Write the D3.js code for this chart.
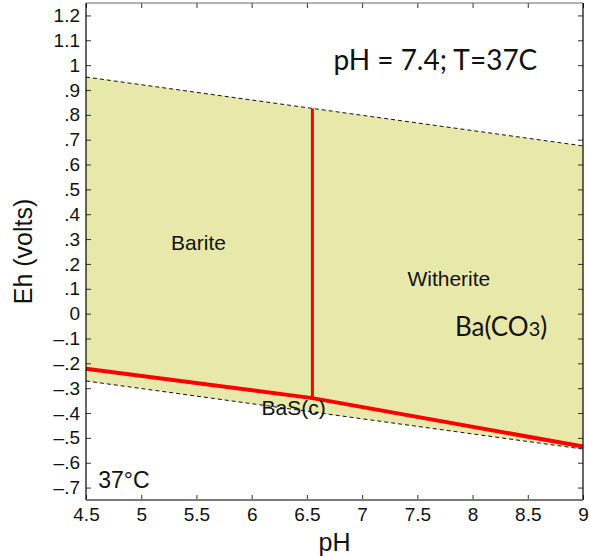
<!DOCTYPE html>
<html>
<head>
<meta charset="utf-8">
<script src="https://cdn.jsdelivr.net/npm/d3@7"></script>
<style>
  body { margin: 0; background: #fff; }
  svg { display: block; }
</style>
</head>
<body>
<svg id="chart" width="589" height="557"></svg>
<script>
// water stability limits at 37C (upper: O2/H2O, lower: H2O/H2)
const waterPH = [4.5, 9];
const upperEh = [0.952, 0.675];
const lowerEh = [-0.271, -0.545];

// red phase boundaries
const boundaryPH = [4.5, 6.55, 9];
const boundaryEh = [-0.222, -0.340, -0.535];
const splitPH = 6.55;

const xTicks = [4.5, 5, 5.5, 6, 6.5, 7, 7.5, 8, 8.5, 9];
const yTicks = [-0.7, -0.6, -0.5, -0.4, -0.3, -0.2, -0.1, 0, 0.1, 0.2, 0.3, 0.4, 0.5, 0.6, 0.7, 0.8, 0.9, 1, 1.1, 1.2];

// region labels, anchored at [pH, Eh]
const regionLabels = [
  { text: 'Barite', at: [5.27, 0.256] },
  { text: 'Witherite', at: [7.41, 0.111] },
  { text: 'BaS(c)', at: [6.09, -0.408] },
];

const width = 589;
const height = 557;
const margin = { top: 3, right: 6, bottom: 57, left: 86 };

const svg = d3.select('#chart');

const x = d3.scaleLinear()
  .domain([4.5, 9])
  .range([margin.left, width - margin.right]);

const y = d3.scaleLinear()
  .domain([-0.75, 1.25])
  .range([height - margin.bottom, margin.top]);

const upperAt = (ph) => d3.scaleLinear().domain(waterPH).range(upperEh)(ph);
const boundaryAt = (ph) => d3.scaleLinear().domain(boundaryPH).range(boundaryEh)(ph);

// stability field between the two water lines
const field = waterPH.map((ph, i) => ({ ph, hi: upperEh[i], lo: lowerEh[i] }));
svg.append('path')
  .datum(field)
  .attr('fill', '#e8e8ab')
  .attr('d', d3.area()
    .x((d) => x(d.ph))
    .y0((d) => y(d.lo))
    .y1((d) => y(d.hi)));

const line = d3.line().x((d) => x(d[0])).y((d) => y(d[1]));

[upperEh, lowerEh].forEach((ehs) => {
  svg.append('path')
    .datum(waterPH.map((ph, i) => [ph, ehs[i]]))
    .attr('fill', 'none')
    .attr('stroke', '#111')
    .attr('stroke-width', 1)
    .attr('stroke-dasharray', '4,3')
    .attr('d', line);
});

svg.append('path')
  .datum(boundaryPH.map((ph, i) => [ph, boundaryEh[i]]))
  .attr('fill', 'none')
  .attr('stroke', '#ff0000')
  .attr('stroke-width', 4)
  .attr('d', line);

svg.append('path')
  .datum([[splitPH, boundaryAt(splitPH)], [splitPH, upperAt(splitPH)]])
  .attr('fill', 'none')
  .attr('stroke', '#ff0000')
  .attr('stroke-width', 3)
  .attr('d', line);

// labels
const sans = 'Liberation Sans, Arial, sans-serif';
const humanist = 'Lato, Open Sans, sans-serif';

svg.selectAll('text.region')
  .data(regionLabels)
  .join('text')
  .attr('class', 'region')
  .attr('x', (d) => x(d.at[0]))
  .attr('y', (d) => y(d.at[1]))
  .attr('font-family', sans)
  .attr('font-size', 21)
  .attr('fill', '#111')
  .text((d) => d.text);

svg.append('text')
  .attr('x', x(4.61))
  .attr('y', y(-0.702))
  .attr('font-family', sans)
  .attr('font-size', 23)
  .attr('fill', '#111')
  .text('37°C');

svg.append('text')
  .attr('x', x(6.74))
  .attr('y', y(0.98))
  .attr('font-family', humanist)
  .attr('font-size', 28)
  .attr('fill', '#111')
  .text('pH = 7.4; T=37C');

const formula = svg.append('text')
  .attr('x', x(7.84))
  .attr('y', y(-0.09))
  .attr('font-family', humanist)
  .attr('font-size', 26)
  .attr('fill', '#111');
formula.append('tspan').text('Ba(CO');
formula.append('tspan').attr('font-size', 20).text('3');
formula.append('tspan').text(')');

// axes
const fmtEh = (v) => {
  if (v === 0) return '0';
  const a = Math.abs(v);
  const s = a >= 1 ? String(+a.toFixed(1)) : a.toFixed(1).replace(/^0/, '');
  return (v < 0 ? '\u2013' : '') + s;
};

const styleAxis = (g, size) => {
  g.select('.domain').remove();
  g.selectAll('.tick line').attr('stroke', '#333');
  g.selectAll('.tick text')
    .attr('font-family', sans)
    .attr('font-size', size)
    .attr('fill', '#111');
};

svg.append('g')
  .attr('transform', `translate(${margin.left},0)`)
  .call(d3.axisLeft(y).tickValues(yTicks).tickFormat(fmtEh).tickSize(-5).tickPadding(6))
  .call((g) => styleAxis(g, 19));

svg.append('g')
  .attr('transform', `translate(${width - margin.right},0)`)
  .call(d3.axisRight(y).tickValues(yTicks).tickFormat('').tickSize(-5))
  .call((g) => styleAxis(g, 19));

svg.append('g')
  .attr('transform', `translate(0,${height - margin.bottom})`)
  .call(d3.axisBottom(x).tickValues(xTicks).tickFormat(d3.format('')).tickSize(-5).tickPadding(8))
  .call((g) => styleAxis(g, 19));

svg.append('g')
  .attr('transform', `translate(0,${margin.top})`)
  .call(d3.axisTop(x).tickValues(xTicks).tickFormat('').tickSize(-5))
  .call((g) => styleAxis(g, 19));

// frame
const [x0, x1] = x.range();
const [y0, y1] = y.range();
svg.append('line').attr('x1', x0).attr('x2', x0).attr('y1', y1).attr('y2', y0)
  .attr('stroke', '#000').attr('stroke-width', 1.2);
svg.append('line').attr('x1', x1).attr('x2', x1).attr('y1', y1).attr('y2', y0)
  .attr('stroke', '#000').attr('stroke-width', 1.2);
svg.append('line').attr('x1', x0).attr('x2', x1).attr('y1', y1).attr('y2', y1)
  .attr('stroke', '#666').attr('stroke-width', 1);
svg.append('line').attr('x1', x0).attr('x2', x1).attr('y1', y0).attr('y2', y0)
  .attr('stroke', '#7a7a7a').attr('stroke-width', 2);

svg.append('text')
  .attr('x', (x0 + x1) / 2)
  .attr('y', 551)
  .attr('text-anchor', 'middle')
  .attr('font-family', sans)
  .attr('font-size', 25)
  .attr('fill', '#111')
  .text('pH');

svg.append('text')
  .attr('transform', `translate(32,${(y0 + y1) / 2}) rotate(-90)`)
  .attr('text-anchor', 'middle')
  .attr('font-family', sans)
  .attr('font-size', 25)
  .attr('fill', '#111')
  .text('Eh (volts)');
</script>
</body>
</html>
